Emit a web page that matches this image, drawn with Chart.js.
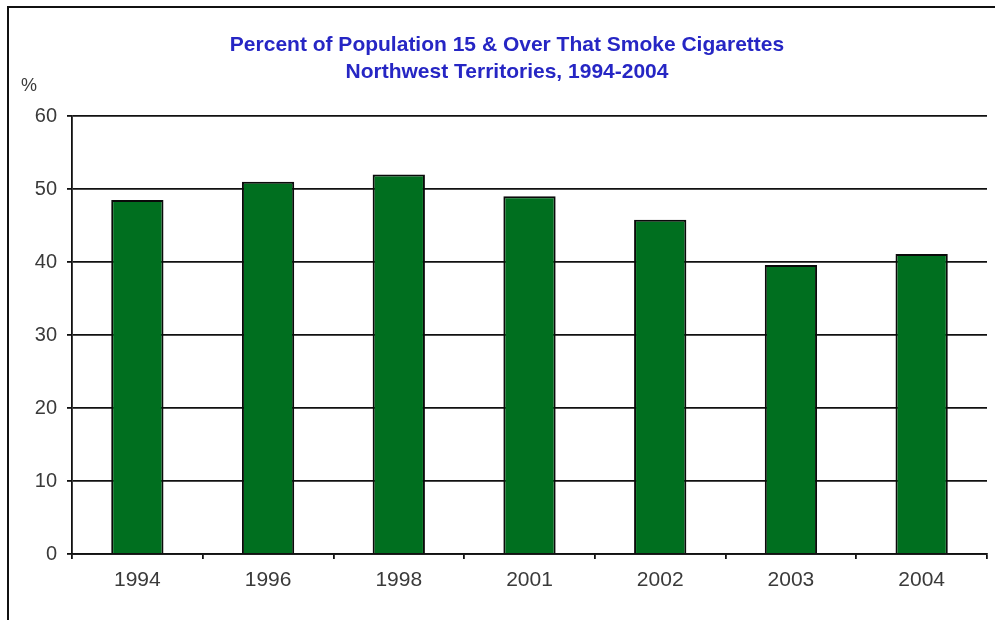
<!DOCTYPE html>
<html>
<head>
<meta charset="utf-8">
<script src="https://cdn.jsdelivr.net/npm/chart.js@4.4.0/dist/chart.umd.min.js"></script>
<style>
  html, body { margin: 0; padding: 0; background: #fff; overflow: hidden; }
  #wrap { position: relative; width: 995px; height: 620px; }
  #frame { position: absolute; left: 7px; top: 6px; width: 1100px; height: 800px;
           border-left: 2px solid #111; border-top: 2px solid #111; }
  canvas { position: absolute; left: 0; top: 0; }
</style>
</head>
<body>
<div id="wrap">
  <div id="frame"></div>
  <canvas id="myChart" width="995" height="620"></canvas>
</div>
<script>
var years = ['1994', '1996', '1998', '2001', '2002', '2003', '2004'];
var smokers = [48.5, 51, 52, 49, 45.8, 39.6, 41.1];
var yTicks = [0, 10, 20, 30, 40, 50, 60];
var titleLines = ['Percent of Population 15 & Over That Smoke Cigarettes',
                  'Northwest Territories, 1994-2004'];
var unitLabel = '%';

var FONT = 'Arial, "Liberation Sans", sans-serif';

// title and the "%" unit drawn straight on the canvas
var headerText = {
  id: 'headerText',
  afterDraw: function(chart) {
    var ctx = chart.ctx;
    ctx.save();
    ctx.fillStyle = '#2626c4';
    ctx.font = 'bold 21px ' + FONT;
    ctx.textAlign = 'center';
    ctx.textBaseline = 'middle';
    ctx.fillText(titleLines[0], 507, 45);
    ctx.fillText(titleLines[1], 507, 72);
    ctx.fillStyle = '#3a3a3a';
    ctx.font = '18px ' + FONT;
    ctx.textAlign = 'left';
    ctx.fillText(unitLabel, 21, 86);
    ctx.restore();
  }
};

var ctx = document.getElementById('myChart').getContext('2d');
var myChart = new Chart(ctx, {
  type: 'bar',
  data: {
    labels: years,
    datasets: [{
      data: smokers,
      backgroundColor: '#006f1f',
      borderColor: '#0a0a0a',
      borderWidth: 2,
      categoryPercentage: 1,
      barPercentage: 0.4
    }]
  },
  options: {
    responsive: false,
    animation: false,
    layout: { padding: { left: 0, right: 8, top: 116, bottom: 0 } },
    plugins: {
      legend: { display: false },
      title: { display: false },
      tooltip: { enabled: false }
    },
    scales: {
      x: {
        offset: true,
        grid: { offset: true, drawOnChartArea: false, drawTicks: true, tickLength: 5, color: '#111', lineWidth: 1.8 },
        border: { color: '#111', width: 1.8 },
        ticks: { color: '#3a3a3a', padding: 9, font: { family: FONT, size: 21 } },
        afterFit: function(scale) { scale.height = 66; }
      },
      y: {
        min: 0,
        max: 60,
        afterBuildTicks: function(scale) { scale.ticks = yTicks.map(function(v) { return { value: v }; }); },
        grid: { color: '#111', lineWidth: 1.8, tickLength: 5 },
        border: { color: '#111', width: 1.8 },
        ticks: { color: '#3a3a3a', padding: 10, font: { family: FONT, size: 20 } },
        afterFit: function(scale) { scale.width = 72; }
      }
    }
  },
  plugins: [headerText]
});
</script>
</body>
</html>
